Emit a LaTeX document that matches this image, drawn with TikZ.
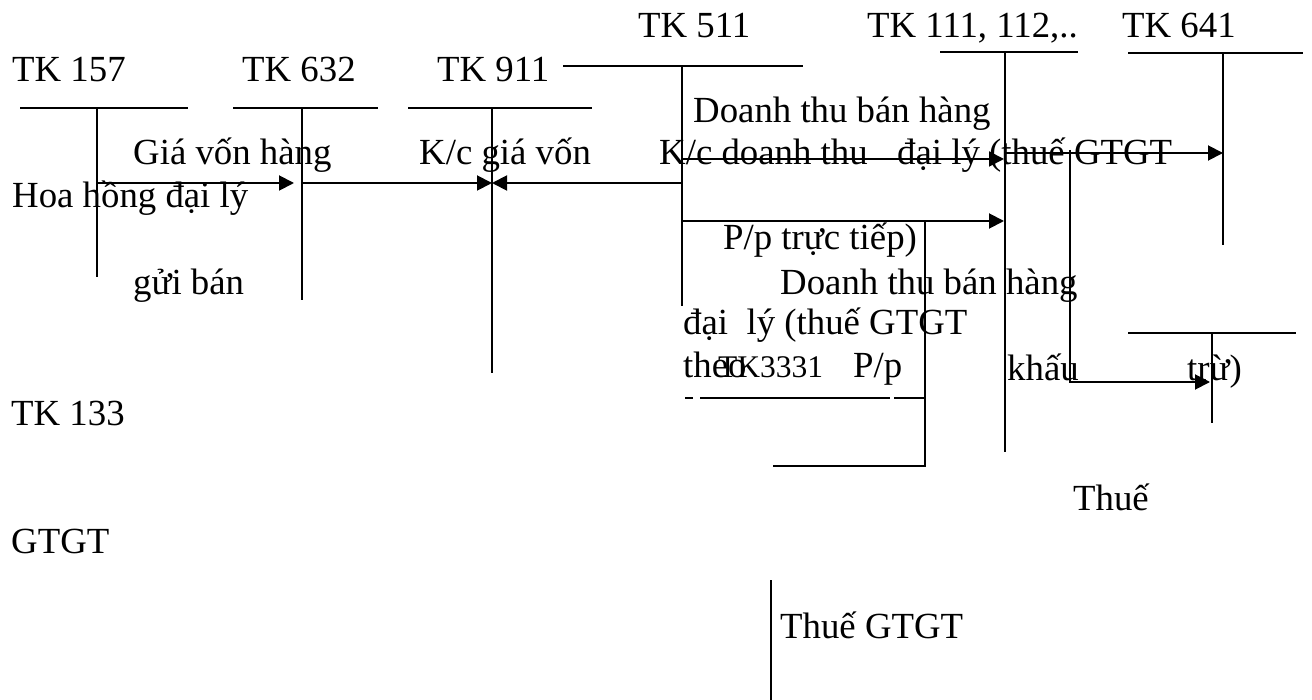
\documentclass[tikz,border=0pt]{standalone}
\usepackage{fontspec}
\setmainfont{Liberation Serif}
\usetikzlibrary{arrows.meta}
\tikzset{
  lbl/.style={anchor=base west,inner sep=0pt,font=\fontsize{36.8}{44}\selectfont},
  smalllbl/.style={anchor=base west,inner sep=0pt,font=\fontsize{31.5}{38}\selectfont},
  tline/.style={line width=1.9pt},
  flow/.style={line width=1.9pt,-{Triangle[length=15pt,width=15pt]}}
}
\begin{document}
\begin{tikzpicture}[x=1pt,y=-1pt]
\useasboundingbox (0,0) rectangle (1312,700);
% ---------- texts ----------
\node[lbl] (t157) at (12,82) {TK 157};
\node[lbl] (t632) at (242,82) {TK 632};
\node[lbl] (t911) at (437,82) {TK 911};
\node[lbl] (t511) at (638,38) {TK 511};
\node[lbl] (t111) at (867,38) {TK 111, 112,..};
\node[lbl] (t641) at (1122,38) {TK 641};
\node[lbl] (dt1) at (693,123) {Doanh thu bán hàng};
\node[lbl] (gv) at (133,165) {Giá vốn hàng};
\node[lbl] (kcgv) at (419,165) {K/c giá vốn};
\node[lbl] (kcdt) at (659,165) {K/c doanh thu};
\node[lbl] (dl1) at (897,165) {đại lý (thuế GTGT};
\node[lbl] (hh) at (12,208) {Hoa hồng đại lý};
\node[lbl] (pp1) at (723,250) {P/p trực tiếp)};
\node[lbl] (gb) at (133,295) {gửi bán};
\node[lbl] (dt2) at (780,295) {Doanh thu bán hàng};
\node[lbl] (dl2) at (683,335) {đại~~lý (thuế GTGT};
\node[lbl] (theo) at (683,378) {theo};
\node[smalllbl] (t3331) at (718,378) {TK3331};
\node[lbl] (pp2) at (853,378) {P/p};
\node[lbl] (khau) at (1007,381) {khấu};
\node[lbl] (tru) at (1187,381) {trừ)};
\node[lbl] (t133) at (11,425) {TK 133};
\node[lbl] (thue1) at (1073,510) {Thuế};
\node[lbl] (gtgt) at (11,553) {GTGT};
\node[lbl] (thue2) at (780,638) {Thuế GTGT};
% ---------- T-accounts ----------
% TK 157
\coordinate (a1) at (20,108); \coordinate (a2) at (188,108);
\coordinate (a3) at (97,108);  \coordinate (a4) at (97,277);
\draw[tline] (a1) -- (a2); \draw[tline] (a3) -- (a4);
% TK 632
\coordinate (b1) at (233,108); \coordinate (b2) at (378,108);
\coordinate (b3) at (302,108); \coordinate (b4) at (302,300);
\draw[tline] (b1) -- (b2); \draw[tline] (b3) -- (b4);
% TK 911
\coordinate (c1) at (408,108); \coordinate (c2) at (592,108);
\coordinate (c3) at (492,108); \coordinate (c4) at (492,373);
\draw[tline] (c1) -- (c2); \draw[tline] (c3) -- (c4);
% TK 511
\coordinate (d1) at (563,66); \coordinate (d2) at (803,66);
\coordinate (d3) at (682,66); \coordinate (d4) at (682,306);
\draw[tline] (d1) -- (d2); \draw[tline] (d3) -- (d4);
% TK 111
\coordinate (e1) at (940,52); \coordinate (e2) at (1078,52);
\coordinate (e3) at (1005,52); \coordinate (e4) at (1005,452);
\draw[tline] (e1) -- (e2); \draw[tline] (e3) -- (e4);
% TK 641
\coordinate (f1) at (1128,53); \coordinate (f2) at (1303,53);
\coordinate (f3) at (1223,53); \coordinate (f4) at (1223,245);
\draw[tline] (f1) -- (f2); \draw[tline] (f3) -- (f4);
% TK 133 (lower right)
\coordinate (g1) at (1128,333); \coordinate (g2) at (1296,333);
\coordinate (g3) at (1212,333); \coordinate (g4) at (1212,423);
\draw[tline] (g1) -- (g2); \draw[tline] (g3) -- (g4);
% TK 3331
\coordinate (h1) at (685,398); \coordinate (h2) at (693,398);
\coordinate (h3) at (700,398); \coordinate (h4) at (890,398);
\coordinate (h5) at (894,398); \coordinate (h6) at (925,398);
\draw[tline] (h1) -- (h2); \draw[tline] (h3) -- (h4); \draw[tline] (h5) -- (h6);
\coordinate (h7) at (925,222); \coordinate (h8) at (925,466);
\coordinate (h9) at (773,466);
\draw[tline] (h7) -- (h8) -- (h9);
% lone vertical
\coordinate (k1) at (771,580); \coordinate (k2) at (771,700);
\draw[tline] (k1) -- (k2);
% ---------- flows ----------
\coordinate (p1) at (97,183);  \coordinate (p2) at (294,183);
\draw[flow] (p1) -- (p2);
\coordinate (p3) at (302,183); \coordinate (p4) at (492,183);
\draw[flow] (p3) -- (p4);
\coordinate (p5) at (682,183);
\draw[flow] (p5) -- (p4);
\coordinate (q1) at (682,159); \coordinate (q2) at (1004,159);
\draw[flow] (q1) -- (q2);
\coordinate (q3) at (1006,153); \coordinate (q4) at (1223,153);
\draw[flow] (q3) -- (q4);
\coordinate (q5) at (682,221); \coordinate (q6) at (1004,221);
\draw[flow] (q5) -- (q6);
\coordinate (r1) at (1070,150); \coordinate (r2) at (1210,382);
\draw[flow] (r1) |- (r2);
\end{tikzpicture}
\end{document}
